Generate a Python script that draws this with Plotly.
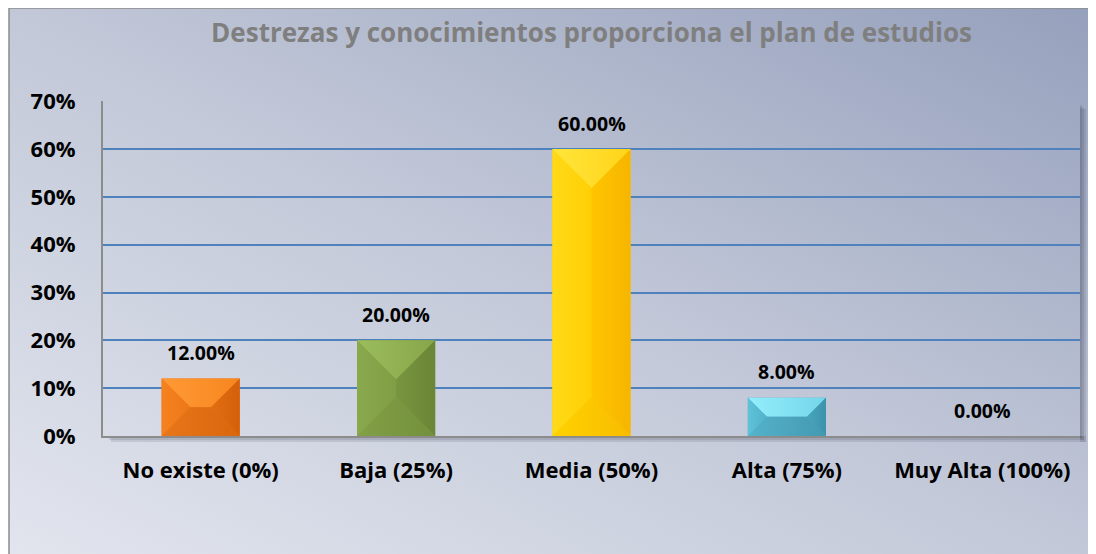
import base64
import plotly.graph_objects as go

categories = ["No existe (0%)", "Baja (25%)", "Media (50%)", "Alta (75%)", "Muy Alta (100%)"]
values = [0.12, 0.20, 0.60, 0.08, 0.00]
y_ticks = [0, 0.1, 0.2, 0.3, 0.4, 0.5, 0.6, 0.7]
y_tick_labels = ["0%", "10%", "20%", "30%", "40%", "50%", "60%", "70%"]
title_text = "Destrezas y conocimientos proporciona el plan de estudios"

# bar face colours (left -> right gradient) per bar
base_colors = ["#ec7418", "#7f9c42", "#ffcc00", "#4eadc4", "#999999"]
top_colors = [("#ff9a35", "#f7861f"), ("#9cbd5c", "#86a64a"), ("#ffe53a", "#ffd41a"),
              ("#93eefb", "#74d6ea"), ("#aaaaaa", "#aaaaaa")]
bottom_colors = [("#e8761a", "#d9660c"), ("#82a046", "#73903c"), ("#ffd200", "#f8bc00"),
                 ("#55b3ca", "#4399b1"), ("#888888", "#888888")]
left_colors = [("#f5821f", "#ec7718"), ("#8aa84c", "#809e45"), ("#ffda18", "#ffcf05"),
               ("#5ec2d8", "#52b3ca"), ("#999999", "#999999")]
right_colors = [("#e26e12", "#d3600a"), ("#789540", "#6a8636"), ("#ffc500", "#f6b500"),
                ("#48a6be", "#3c93ab"), ("#777777", "#777777")]

FONT = "Open Sans"
W, H = 1088, 546          # page body has an 8px margin
L, R, T, B = 95, 16, 93, 118
plot_w = W - L - R
plot_h = H - T - B
y_max = 0.7
bar_w = 0.4
px_x = plot_w / len(categories)   # px per x unit
px_y = plot_h / y_max             # px per y unit

x_pos = list(range(len(categories)))

fig = go.Figure()

fig.add_trace(go.Bar(
    x=x_pos, y=values, width=bar_w,
    marker=dict(color=base_colors, line=dict(width=0)),
    hoverinfo="skip", showlegend=False,
))

# bevel faces
for i, v in enumerate(values):
    if v <= 0:
        continue
    h_px = v * px_y
    d = min(bar_w * px_x / 2, h_px / 2)
    dx = d / px_x
    dy = d / px_y
    xl, xr = i - bar_w / 2, i + bar_w / 2
    faces = [
        ([xl, xr, xr - dx, xl + dx, xl], [v, v, v - dy, v - dy, v], top_colors[i]),
        ([xl, xr, xr - dx, xl + dx, xl], [0, 0, dy, dy, 0], bottom_colors[i]),
        ([xl, xl + dx, xl + dx, xl, xl], [0, dy, v - dy, v, 0], left_colors[i]),
        ([xr, xr - dx, xr - dx, xr, xr], [0, dy, v - dy, v, 0], right_colors[i]),
    ]
    for fx, fy, (c1, c2) in faces:
        fig.add_trace(go.Scatter(
            x=fx, y=fy, mode="lines", fill="toself",
            fillgradient=dict(type="horizontal", colorscale=[[0, c1], [1, c2]]),
            line=dict(width=0, color=c1), hoverinfo="skip", showlegend=False,
        ))

# data labels
for i, v in enumerate(values):
    fig.add_annotation(
        x=i, y=v, text=f"<b>{v*100:.2f}%</b>", showarrow=False, yshift=26,
        font=dict(family=FONT, size=19.5, color="#000000"),
        xref="x", yref="y",
    )

def fx2p(xp):
    return (xp - L) / plot_w

def fy2p(yp):
    return (H - B - yp) / plot_h

# background gradient
svg = ('<svg xmlns="http://www.w3.org/2000/svg" width="100" height="100" preserveAspectRatio="none">'
       '<defs><linearGradient id="g" x1="0" y1="1" x2="1" y2="0">'
       '<stop offset="0" stop-color="#e2e5ee"/><stop offset="0.5" stop-color="#c2c8d8"/>'
       '<stop offset="1" stop-color="#95a0bc"/></linearGradient></defs>'
       '<rect width="100" height="100" fill="url(#g)"/></svg>')
uri = "data:image/svg+xml;base64," + base64.b64encode(svg.encode()).decode()
x0b, y0b = fx2p(1), fy2p(0)
x1b, y1b = fx2p(W + 4), fy2p(H + 4)
fig.add_layout_image(dict(
    source=uri, xref="paper", yref="paper", x=x0b, y=y0b,
    sizex=x1b - x0b, sizey=y0b - y1b, sizing="stretch",
    xanchor="left", yanchor="top", layer="below",
))

shapes = []
# outer border
shapes.append(dict(type="rect", xref="paper", yref="paper", x0=x0b, y0=y1b, x1=x1b, y1=y0b,
                   line=dict(color="#8c8c8c", width=1.5), fillcolor="rgba(0,0,0,0)", layer="below"))
# plot area shadow (right and bottom)
for k, a in enumerate([0.12, 0.12, 0.12]):
    off = 2 + 2 * k
    shapes.append(dict(type="rect", xref="paper", yref="paper",
                       x0=1.0, x1=fx2p(L + plot_w + off), y0=fy2p(T + off + 2), y1=fy2p(H - B + off),
                       line=dict(width=0), fillcolor=f"rgba(40,40,60,{a})", layer="below"))
    shapes.append(dict(type="rect", xref="paper", yref="paper",
                       x0=fx2p(L + off + 2), x1=fx2p(L + plot_w + off), y0=fy2p(H - B + off), y1=0.0,
                       line=dict(width=0), fillcolor=f"rgba(40,40,60,{a})", layer="below"))
fig.update_layout(shapes=shapes)

fig.update_layout(
    width=W, height=H,
    margin=dict(l=L, r=R, t=T, b=B, autoexpand=False),
    paper_bgcolor="#ffffff",
    plot_bgcolor="rgba(0,0,0,0)",
    bargap=0.6,
    showlegend=False,
    title=dict(text=f"<b>{title_text}</b>", x=0.5, xref="paper", y=1 - 25 / H, yanchor="middle",
               font=dict(family=FONT, size=26, color="#7f7f7f")),
    font=dict(family=FONT, color="#000000"),
)

fig.update_xaxes(
    range=[-0.5, len(categories) - 0.5], tickvals=x_pos,
    ticktext=[f"<b>{c}</b>" for c in categories],
    tickfont=dict(family=FONT, size=22, color="#000000"),
    showgrid=False, zeroline=False, showline=True, linecolor="#8c8c8c", linewidth=2,
    ticks="", ticklabelstandoff=14, fixedrange=True,
)
fig.update_yaxes(
    range=[0, y_max * 1.0008], tickvals=y_ticks,
    ticktext=[f"<b>{t}</b>" for t in y_tick_labels],
    tickfont=dict(family=FONT, size=22, color="#000000"),
    showgrid=True, gridcolor="#4f81bd", gridwidth=1.5, zeroline=False,
    showline=True, linecolor="#8c8c8c", linewidth=2, ticks="", ticklabelstandoff=21,
    fixedrange=True,
)
fig.update_traces(cliponaxis=False, selector=dict(type="bar"))

fig.write_html("out.html")
